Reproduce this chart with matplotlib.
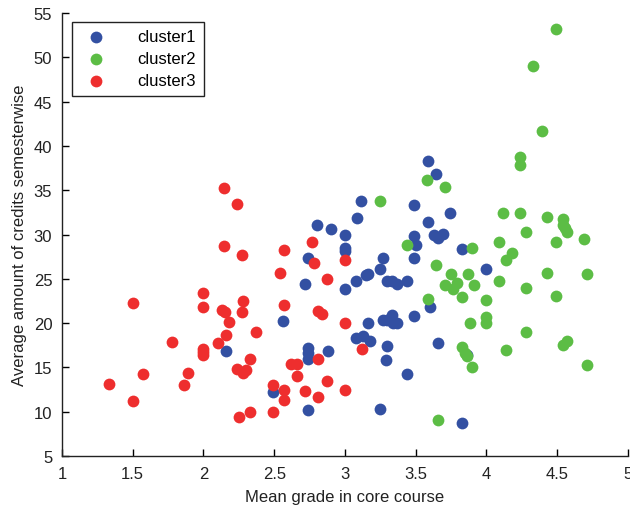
import numpy as np
import matplotlib
matplotlib.use("Agg")
from matplotlib import pyplot as plt

plt.rcParams['font.family'] = ['Liberation Sans', 'DejaVu Sans']

# cluster1: mean grade / credits per semester
c1_x = [2.16, 2.49, 2.56, 2.72, 2.74, 2.74, 2.74, 2.74, 2.74, 2.80,
        2.88, 2.90, 3.00, 3.00, 3.00, 3.00, 3.085, 3.11, 3.08, 3.08,
        3.13, 3.18, 3.16, 3.15, 3.16, 3.25, 3.27, 3.25, 3.27, 3.30,
        3.33, 3.34, 3.37, 3.30, 3.33, 3.37, 3.44, 3.30, 3.29, 3.44,
        3.49, 3.49, 3.50, 3.49, 3.49, 3.59, 3.64, 3.59, 3.60, 3.63,
        3.66, 3.69, 3.66, 3.74, 3.83, 3.995, 3.83, 3.86]
c1_y = [16.9, 12.2, 20.2, 24.4, 27.3, 17.2, 16.6, 16.0, 10.2, 31.1,
        16.8, 30.6, 29.9, 28.5, 28.1, 23.8, 31.9, 33.8, 24.8, 18.3,
        18.5, 18.0, 25.6, 25.4, 20.0, 26.1, 27.4, 10.3, 20.3, 20.4,
        20.9, 20.0, 20.0, 24.8, 24.7, 24.4, 24.8, 17.4, 15.8, 14.3,
        33.3, 29.8, 28.8, 27.4, 20.8, 38.3, 36.8, 31.4, 21.8, 29.9,
        29.6, 30.1, 17.8, 32.4, 28.4, 26.1, 8.7, 16.4]

c2_x = [3.25, 3.44, 3.58, 3.59, 3.64, 3.66, 3.71, 3.71, 3.76, 3.79,
        3.75, 3.83, 3.83, 3.85, 3.86, 3.87, 3.88, 3.90, 3.90, 3.91,
        4.00, 4.00, 4.00, 4.09, 4.09, 4.12, 4.14, 4.18, 4.14, 4.24,
        4.24, 4.24, 4.28, 4.28, 4.28, 4.33, 4.39, 4.43, 4.43, 4.49,
        4.49, 4.49, 4.54, 4.54, 4.57, 4.555, 4.57, 4.54, 4.69, 4.71,
        4.71]
c2_y = [33.8, 28.8, 36.1, 22.7, 26.6, 9.05, 35.4, 24.3, 23.9, 24.5,
        25.6, 22.9, 17.3, 16.6, 16.3, 25.6, 20.0, 28.5, 15.0, 24.3,
        22.6, 20.7, 20.0, 29.2, 24.8, 32.4, 27.1, 27.9, 17.0, 38.8,
        37.8, 32.4, 30.3, 24.0, 19.0, 49.0, 41.7, 32.0, 25.7, 53.2,
        29.1, 23.1, 31.8, 31.1, 30.3, 30.7, 17.95, 17.5, 29.5, 25.6,
        15.25]

c3_x = [1.33, 1.50, 1.50, 1.57, 1.78, 1.86, 1.89, 2.00, 2.00, 2.00,
        2.00, 2.00, 2.10, 2.13, 2.155, 2.145, 2.145, 2.16, 2.18, 2.24,
        2.27, 2.28, 2.27, 2.37, 2.33, 2.24, 2.30, 2.28, 2.33, 2.25,
        2.49, 2.49, 2.54, 2.57, 2.57, 2.57, 2.57, 2.62, 2.66, 2.66,
        2.72, 2.77, 2.78, 2.81, 2.84, 2.81, 2.87, 2.81, 2.87, 3.00,
        3.00, 3.00, 3.12]
c3_y = [13.1, 22.3, 11.2, 14.3, 17.9, 13.0, 14.4, 23.4, 21.8, 17.1,
        16.7, 16.4, 17.8, 21.5, 21.3, 28.7, 35.2, 18.7, 20.1, 33.5,
        27.7, 22.5, 21.2, 19.0, 16.0, 14.8, 14.7, 14.4, 10.0, 9.4,
        13.0, 10.0, 25.7, 28.3, 22.0, 12.5, 11.3, 15.4, 15.4, 14.0,
        12.3, 29.2, 26.8, 21.4, 21.0, 16.0, 13.5, 11.7, 25.0, 27.1,
        20.0, 12.5, 17.1]

x_ticks = [1, 1.5, 2, 2.5, 3, 3.5, 4, 4.5, 5]
y_ticks = [5, 10, 15, 20, 25, 30, 35, 40, 45, 50, 55]

fig = plt.figure(figsize=(6.3, 5.06), dpi=100)
ax = fig.add_axes([0.0984, 0.0968, 0.8984, 0.8755])

ms = 72
ax.scatter(c1_x, c1_y, s=ms, color='#3350a2', label='cluster1', zorder=3, linewidths=0)
ax.scatter(c2_x, c2_y, s=ms, color='#5cbd45', label='cluster2', zorder=3, linewidths=0)
ax.scatter(c3_x, c3_y, s=ms, color='#ee2e2e', label='cluster3', zorder=3, linewidths=0)

ax.set_xlim(1, 5)
ax.set_ylim(5, 55)
ax.set_xticks(x_ticks)
ax.set_xticklabels(['%g' % t for t in x_ticks])
ax.set_yticks(y_ticks)
ax.set_yticklabels(['%g' % t for t in y_ticks])
ax.tick_params(direction='in', length=5, width=1, labelsize=12,
               labelcolor='#222222', pad=7)

ax.spines['top'].set_visible(False)
ax.spines['right'].set_visible(False)
for s in ['left', 'bottom']:
    ax.spines[s].set_color('#222222')
    ax.spines[s].set_linewidth(1)

ax.set_xlabel('Mean grade in core course', fontsize=12, color='#222222', labelpad=6)
ax.set_ylabel('Average amount of credits semesterwise', fontsize=12,
              color='#222222', labelpad=5)

leg = ax.legend(loc='upper left', bbox_to_anchor=(0.017, 0.98), fancybox=False,
                edgecolor='#222222', framealpha=1, fontsize=12,
                handletextpad=1.5, borderpad=0.45, labelspacing=0.42,
                handlelength=2.0, borderaxespad=0)
leg.get_frame().set_linewidth(1)

plt.savefig("out.png", dpi=100)
